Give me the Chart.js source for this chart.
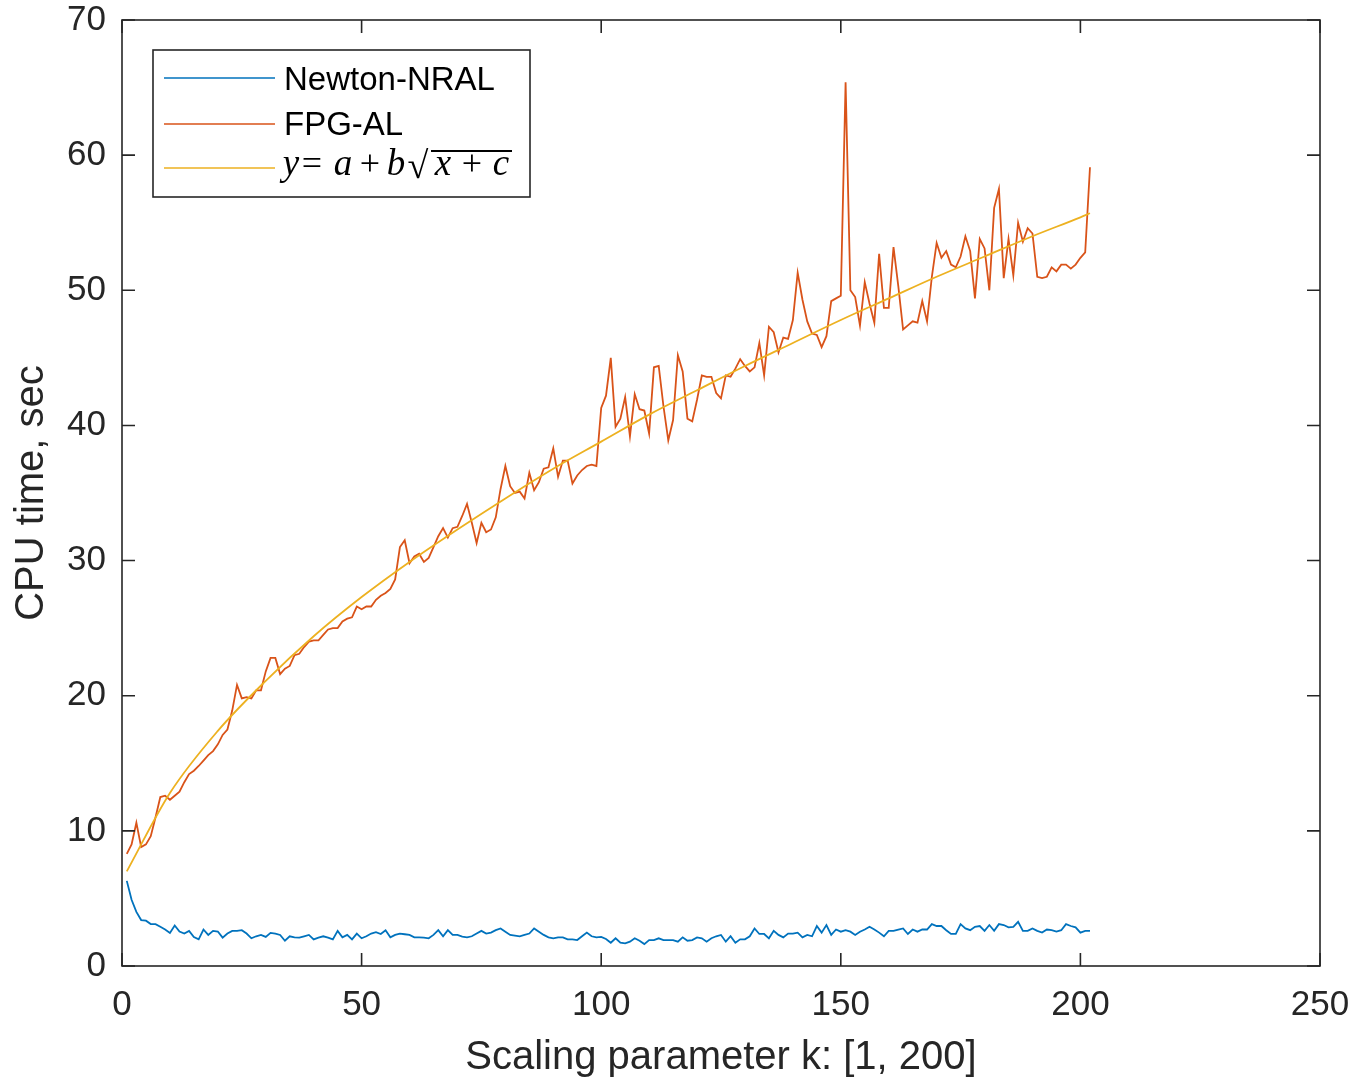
<!DOCTYPE html>
<html lang="en">
<head>
  <meta charset="UTF-8">
  <title>CPU time vs scaling parameter</title>
  <script src="https://cdn.jsdelivr.net/npm/chart.js"></script>
  <style>
    body {
      margin: 0;
      background: #fff;
    }
  </style>
</head>
<body>
  <canvas id="cpuChart" width="1354" height="1084"></canvas>
  <script>
    // CPU time (sec) for k = 1 .. 202
    const newtonNRAL = [
      6.3, 4.9, 4.0, 3.4, 3.35, 3.1, 3.1, 2.9, 2.7, 2.45,
      3.0, 2.55, 2.4, 2.6, 2.15, 1.97, 2.7, 2.3, 2.6, 2.55,
      2.1, 2.4, 2.6, 2.6, 2.65, 2.4, 2.05, 2.2, 2.3, 2.15,
      2.45, 2.4, 2.3, 1.87, 2.2, 2.12, 2.1, 2.2, 2.3, 1.97,
      2.1, 2.2, 2.1, 1.97, 2.6, 2.12, 2.3, 1.97, 2.4, 2.05,
      2.2, 2.4, 2.5, 2.37, 2.65, 2.12, 2.3, 2.4, 2.35, 2.3,
      2.12, 2.12, 2.1, 2.05, 2.3, 2.65, 2.2, 2.65, 2.3, 2.3,
      2.17, 2.12, 2.2, 2.4, 2.6, 2.4, 2.47, 2.65, 2.78, 2.54,
      2.3, 2.25, 2.2, 2.3, 2.4, 2.78, 2.54, 2.3, 2.12, 2.05,
      2.12, 2.12, 1.97, 1.97, 1.92, 2.2, 2.47, 2.2, 2.12, 2.15,
      2.0, 1.72, 2.05, 1.72, 1.67, 1.8, 2.05, 1.87, 1.62, 1.92,
      1.92, 2.05, 1.92, 1.92, 1.92, 1.8, 2.12, 1.87, 1.92, 2.12,
      2.05, 1.8, 2.05, 2.2, 2.3, 1.8, 2.2, 1.72, 1.97, 1.97,
      2.2, 2.78, 2.37, 2.37, 2.05, 2.6, 2.3, 2.12, 2.4, 2.4,
      2.47, 2.12, 2.3, 2.2, 2.96, 2.47, 3.03, 2.3, 2.7, 2.54,
      2.65, 2.54, 2.3, 2.54, 2.7, 2.9, 2.7, 2.47, 2.2, 2.6,
      2.6, 2.7, 2.78, 2.37, 2.7, 2.54, 2.7, 2.7, 3.1, 2.96,
      2.96, 2.65, 2.37, 2.37, 3.1, 2.78, 2.65, 2.9, 2.96, 2.6,
      3.03, 2.6, 3.1, 3.03, 2.86, 2.9, 3.27, 2.6, 2.6, 2.78,
      2.6, 2.47, 2.7, 2.65, 2.54, 2.65, 3.1, 2.96, 2.86, 2.47,
      2.6, 2.6
    ];

    const fpgAL = [
      8.3, 9.0, 10.6, 8.8, 9.0, 9.6, 11.0, 12.5, 12.6, 12.3,
      12.6, 12.9, 13.6, 14.2, 14.45, 14.8, 15.2, 15.6, 15.9, 16.4,
      17.1, 17.5, 18.9, 20.8, 19.8, 19.9, 19.8, 20.4, 20.4, 21.8,
      22.8, 22.8, 21.6, 22.0, 22.2, 23.0, 23.1, 23.6, 24.0, 24.1,
      24.1, 24.5, 24.9, 25.0, 25.0, 25.5, 25.7, 25.8, 26.6, 26.4,
      26.6, 26.6, 27.1, 27.4, 27.6, 27.9, 28.6, 31.0, 31.5, 29.8,
      30.3, 30.5, 29.9, 30.2, 31.0, 31.8, 32.4, 31.7, 32.4, 32.5,
      33.3, 34.2, 32.8, 31.3, 32.8, 32.1, 32.3, 33.2, 35.3, 37.0,
      35.5, 35.0, 35.1, 34.6, 36.5, 35.2, 35.8, 36.8, 36.9, 38.3,
      36.2, 37.4, 37.4, 35.7, 36.3, 36.7, 37.0, 37.1, 37.0, 41.3,
      42.2, 45.0, 39.9, 40.5, 42.1, 39.2, 42.3, 41.2, 41.1, 39.4,
      44.3, 44.4, 41.4, 38.9, 40.4, 45.2, 44.0, 40.5, 40.3, 41.9,
      43.7, 43.6, 43.6, 42.4, 42.0, 43.7, 43.6, 44.2, 44.9, 44.4,
      44.0, 44.3, 46.1, 43.7, 47.3, 46.9, 45.4, 46.5, 46.4, 47.8,
      51.3, 49.3, 47.7, 46.8, 46.7, 45.8, 46.6, 49.2, 49.4, 49.6,
      65.4, 50.0, 49.5, 47.4, 50.6, 49.0, 47.6, 52.7, 48.7, 48.7,
      53.2, 50.3, 47.1, 47.4, 47.7, 47.6, 49.2, 47.7, 51.0, 53.5,
      52.4, 52.9, 51.9, 51.7, 52.5, 54.0, 52.9, 49.4, 53.8, 53.1,
      50.0, 56.1, 57.5, 50.9, 53.8, 51.1, 55.0, 53.6, 54.6, 54.2,
      51.0, 50.9, 51.0, 51.7, 51.4, 51.9, 51.9, 51.6, 51.9, 52.4,
      52.8, 59.1
    ];

    // fitted curve y = a + b*sqrt(x + c), sampled off the figure
    const fitK = [1, 10, 20, 30, 40, 50, 60, 70, 80, 90, 100, 110, 120, 130, 140, 150, 160, 170, 180, 190, 200, 202];
    const fitY = [7.0, 12.8, 17.4, 21.1, 24.4, 27.3, 29.9, 32.3, 34.6, 36.8, 38.8, 40.8, 42.6, 44.4, 46.1, 47.8, 49.4, 51.0, 52.5, 54.0, 55.4, 55.7];

    const k = fpgAL.map((_, i) => i + 1);
    const seriesLabels = ['Newton-NRAL', 'FPG-AL', 'y = a + b\u221Ax + c'];
    const seriesColors = ['#0072BD', '#D95319', '#EDB120'];

    const textColor = '#262626';
    const sans = '"Liberation Sans", Arial, sans-serif';
    const serif = '"Liberation Serif", "DejaVu Serif", serif';

    function drawFormula(ctx, yMid) {
      const it = 'italic 37px ' + serif;
      const up = '36px ' + serif;
      // glyph centres as placed in the original legend
      const glyphs = [
        ['y', it, 291], ['=', up, 312], ['a', it, 343], ['+', up, 370],
        ['b', it, 396], ['x', it, 443], ['+', up, 472], ['c', it, 501]
      ];
      ctx.textBaseline = 'alphabetic';
      ctx.textAlign = 'center';
      glyphs.forEach(([s, f, gx]) => {
        ctx.font = f;
        ctx.fillText(s, gx, yMid + 9);
      });
      ctx.font = '38px ' + serif;
      ctx.fillText('\u221A', 418, yMid + 12);
      // vinculum over x + c
      ctx.lineWidth = 1.8;
      ctx.beginPath();
      ctx.moveTo(431, yMid - 15);
      ctx.lineTo(512, yMid - 15);
      ctx.stroke();
      ctx.textAlign = 'left';
    }

    const matlabAxes = {
      id: 'matlabAxes',
      afterDatasetsDraw(chart) {
        const { ctx, chartArea: a, scales: { x, y } } = chart;
        const len = 13;
        ctx.save();
        ctx.strokeStyle = textColor;
        ctx.lineWidth = 1.6;
        ctx.beginPath();
        x.ticks.forEach(t => {
          const px = x.getPixelForValue(t.value);
          ctx.moveTo(px, a.bottom); ctx.lineTo(px, a.bottom - len);
          ctx.moveTo(px, a.top); ctx.lineTo(px, a.top + len);
        });
        y.ticks.forEach(t => {
          const py = y.getPixelForValue(t.value);
          ctx.moveTo(a.left, py); ctx.lineTo(a.left + len, py);
          ctx.moveTo(a.right, py); ctx.lineTo(a.right - len, py);
        });
        ctx.stroke();
        ctx.strokeRect(a.left, a.top, a.right - a.left, a.bottom - a.top);

        // legend box, top left inside the axes
        ctx.fillStyle = '#fff';
        ctx.fillRect(153, 50, 377, 147);
        ctx.strokeRect(153, 50, 377, 147);
        const rows = [78, 124, 168];
        rows.forEach((ry, i) => {
          ctx.strokeStyle = seriesColors[i];
          ctx.lineWidth = 1.6;
          ctx.beginPath();
          ctx.moveTo(164, ry);
          ctx.lineTo(275, ry);
          ctx.stroke();
        });
        ctx.fillStyle = '#000';
        ctx.strokeStyle = '#000';
        ctx.font = '33px ' + sans;
        ctx.textBaseline = 'middle';
        ctx.fillText(seriesLabels[0], 284, 81);
        ctx.fillText(seriesLabels[1], 284, 126);
        drawFormula(ctx, 166);
        ctx.restore();
      }
    };

    const lineDefaults = {
      borderWidth: 1.8,
      pointRadius: 0,
      fill: false
    };

    new Chart(document.getElementById('cpuChart'), {
      type: 'line',
      data: {
        datasets: [{
          ...lineDefaults,
          label: seriesLabels[0],
          data: k.map((v, i) => ({ x: v, y: newtonNRAL[i] })),
          borderColor: seriesColors[0],
          order: 3
        }, {
          ...lineDefaults,
          label: seriesLabels[1],
          data: k.map((v, i) => ({ x: v, y: fpgAL[i] })),
          borderColor: seriesColors[1],
          order: 2
        }, {
          ...lineDefaults,
          label: seriesLabels[2],
          data: fitK.map((v, i) => ({ x: v, y: fitY[i] })),
          borderColor: seriesColors[2],
          cubicInterpolationMode: 'monotone',
          order: 1
        }]
      },
      options: {
        responsive: false,
        animation: false,
        devicePixelRatio: 1,
        layout: { padding: { top: 20, right: 34, bottom: 0, left: 0 } },
        plugins: {
          legend: { display: false },
          tooltip: { enabled: false }
        },
        scales: {
          x: {
            type: 'linear',
            min: 0,
            max: 250,
            grid: { display: false, drawTicks: false },
            border: { display: false },
            ticks: { stepSize: 50, padding: 18, color: textColor, font: { family: sans, size: 35 }, maxRotation: 0 },
            title: {
              display: true,
              text: 'Scaling parameter k: [1, 200]',
              color: textColor,
              font: { family: sans, size: 40 },
              padding: { top: 0, bottom: 2 }
            },
            afterFit: s => {
              s.height = 118;
              s.paddingLeft = 0;
              s.paddingRight = 0;
            }
          },
          y: {
            min: 0,
            max: 70,
            grid: { display: false, drawTicks: false },
            border: { display: false },
            ticks: { stepSize: 10, padding: 16, color: textColor, font: { family: sans, size: 35 } },
            title: {
              display: true,
              text: 'CPU time, sec',
              color: textColor,
              font: { family: sans, size: 40 },
              padding: { top: 8, bottom: 0 }
            },
            afterFit: s => {
              s.width = 122;
              s.paddingTop = 0;
              s.paddingBottom = 0;
            }
          }
        }
      },
      plugins: [matlabAxes]
    });
  </script>
</body>
</html>
